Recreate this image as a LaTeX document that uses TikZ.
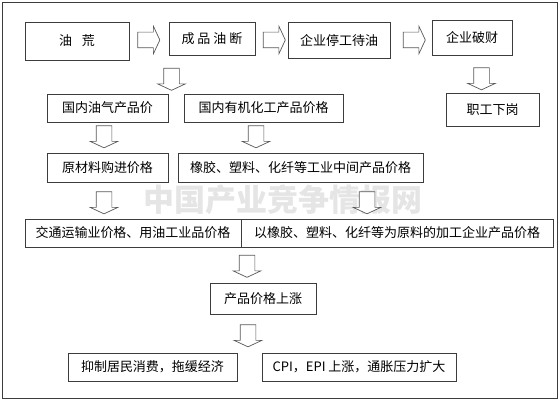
\documentclass[tikz,border=0pt]{standalone}
\usepackage{fontspec}
\newfontfamily\cjk{Noto Sans CJK SC}
\usetikzlibrary{shapes.arrows}
\definecolor{edge}{HTML}{3C3C3C}

\begin{document}
\begin{tikzpicture}[x=1pt,y=-1pt,
 box/.style={draw=edge,fill=white,line width=0.8pt,inner sep=0pt,font=\cjk\fontsize{13}{13}\selectfont},
 blk/.style={single arrow,draw=edge!85,fill=white,line width=0.7pt,inner xsep=0pt,inner ysep=7.5pt,minimum height=22pt,single arrow head extend=6pt,single arrow tip angle=130},
 dn/.style={blk,rotate=-90}]
\useasboundingbox (0,0) rectangle (560,404);
\draw[draw=edge,line width=0.8pt] (2,2) rectangle (557,398);
% watermark
\node[font=\cjk\bfseries\fontsize{31}{31}\selectfont,text=gray!20] (mark) at (283,200) {中国产业竞争情报网};
% first row
\node[box,minimum width=104pt,minimum height=38pt] (shortage) at (77,41) {油\hspace{10pt}荒};
\node[box,minimum width=86pt,minimum height=33pt] (cutoff) at (212,38.5) {成\hspace{3pt}品\hspace{3pt}油\hspace{3pt}断};
\node[box,minimum width=102pt,minimum height=36pt] (halt) at (339,40) {企业停工待油};
\node[box,minimum width=80pt,minimum height=35pt] (broke) at (472,37.5) {企业破财};
\node[box,minimum width=93pt,minimum height=33pt] (laidoff) at (492.5,109.5) {职工下岗};
% prices
\node[box,minimum width=121pt,minimum height=28pt] (oilprice) at (107.5,108) {国内油气产品价};
\node[box,minimum width=159pt,minimum height=28pt] (chemprice) at (263.5,108) {国内有机化工产品价格};
\node[box,minimum width=121pt,minimum height=29pt] (rawprice) at (107.5,167.5) {原材料购进价格};
\node[box,minimum width=245pt,minimum height=29pt] (midprice) at (300.5,167.5) {橡胶、塑料、化纤等工业中间产品价格};
\node[box,minimum width=216pt,minimum height=28pt] (transprice) at (133,233) {交通运输业价格、用油工业品价格};
\node[box,minimum width=312pt,minimum height=28pt] (procprice) at (397,233) {以橡胶、塑料、化纤等为原料的加工企业产品价格};
\node[box,minimum width=106pt,minimum height=31pt] (rise) at (263,298.5) {产品价格上涨};
\node[box,minimum width=169pt,minimum height=28pt] (consume) at (152.5,367) {抑制居民消费，拖缓经济};
\node[box,minimum width=194pt,minimum height=28pt] (cpi) at (359,367) {CPI，EPI 上涨，通胀压力扩大};
% block arrows
\node[blk] (r1) at (147,40) {};
\node[blk] (r2) at (272.5,40) {};
\node[blk] (r3) at (412.5,40) {};
\node[dn] (d1) at (171.5,77.5) {};
\node[dn] (d2) at (481.5,77) {};
\node[dn] (d3) at (104,135) {};
\node[dn] (d4) at (256,135) {};
\node[dn] (d5) at (104,201) {};
\node[dn] (d6) at (367,201) {};
\node[dn] (d7) at (247,264.5) {};
\node[dn] (d8) at (248,334) {};
\end{tikzpicture}
\end{document}
